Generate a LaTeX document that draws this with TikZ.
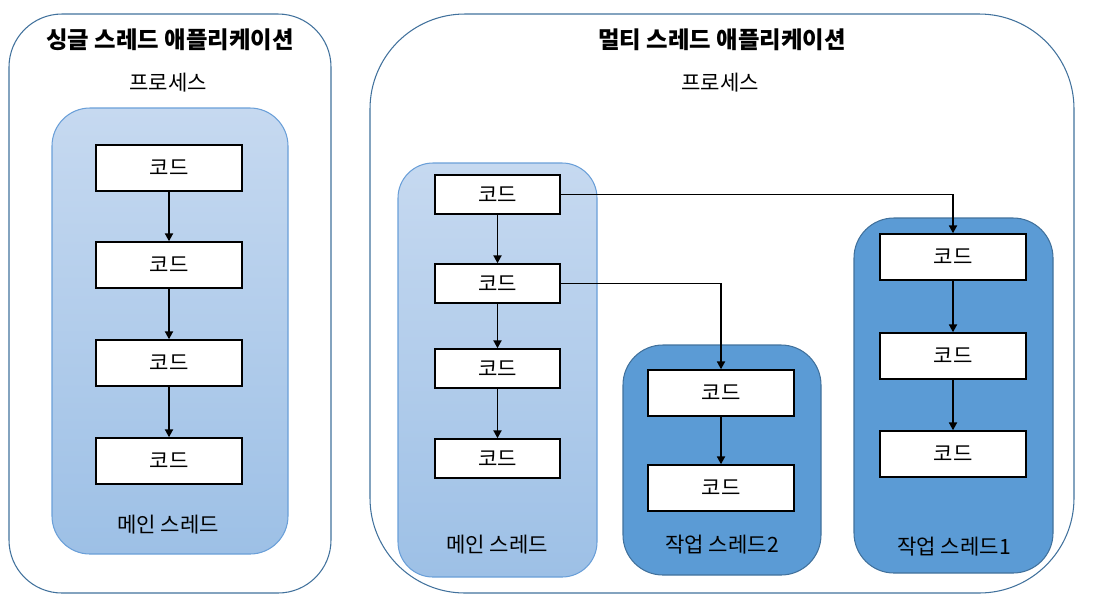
\documentclass[tikz,border=0pt]{standalone}
\usepackage{fontspec}
\setmainfont{Noto Sans CJK KR}
\usetikzlibrary{arrows.meta,positioning}

\definecolor{frameblue}{HTML}{41719C}
\definecolor{mainedge}{HTML}{6A9FD8}
\definecolor{maintop}{HTML}{C6D9F0}
\definecolor{mainbot}{HTML}{9DC0E6}
\definecolor{workfill}{HTML}{5B9BD5}

\tikzset{
  code/.style={draw=black, line width=0.8pt, fill=white, inner sep=0pt,
    minimum width=2.92cm, minimum height=0.92cm, font=\fontsize{12}{14}\selectfont},
  smallcode/.style={code, minimum width=2.5cm, minimum height=0.78cm},
  label/.style={font=\fontsize{12}{14}\selectfont},
  title/.style={font=\fontsize{13.3}{16}\selectfont\bfseries},
  flow/.style={line width=1.1pt, -{Triangle[length=4.5pt,width=4.5pt]}}
}

\begin{document}
\begin{tikzpicture}[x=0.02cm, y=-0.02cm]
 \useasboundingbox (0,0) rectangle (1106,600);

 % single thread application
 \begin{scope}
  \draw[frameblue, line width=0.6pt, rounded corners=1.06cm] (9,14) rectangle (331,593);
  \draw[mainedge, line width=0.6pt, top color=maintop, bottom color=mainbot,
    rounded corners=0.76cm] (52,108) rectangle (288,554);

  \node(st)[title] at (170,40) {싱글 스레드 애플리케이션};
  \node(sp)[label] at (168,83) {프로세스};

  \node(s1)[code] at (169,168) {코드};
  \node(s2)[code] at (169,265) {코드};
  \node(s3)[code] at (169,363) {코드};
  \node(s4)[code] at (169,461) {코드};
  \node(sm)[label] at (168,525) {메인 스레드};

  \draw[flow] (s1) -- (s2);
  \draw[flow] (s2) -- (s3);
  \draw[flow] (s3) -- (s4);
 \end{scope}

 % multi thread application
 \begin{scope}
  \draw[frameblue, line width=0.6pt, rounded corners=1.9cm] (370,14) rectangle (1074,593);
  \node(mt)[title] at (722,40) {멀티 스레드 애플리케이션};
  \node(mp)[label] at (720,83) {프로세스};

  %main thread
  \draw[mainedge, line width=0.6pt, top color=maintop, bottom color=mainbot,
    rounded corners=0.7cm] (398,163) rectangle (597,577);
  \node(m1)[smallcode] at (497.5,194.5) {코드};
  \node(m2)[smallcode] at (497.5,283.5) {코드};
  \node(m3)[smallcode] at (497.5,368.5) {코드};
  \node(m4)[smallcode] at (497.5,458.5) {코드};
  \node(mm)[label] at (497,545) {메인 스레드};

  %worker thread 2
  \draw[frameblue, line width=0.6pt, fill=workfill, rounded corners=0.8cm] (623,345) rectangle (821,575);
  \node(a1)[code] at (721,393) {코드};
  \node(a2)[code] at (721,488) {코드};
  \node(aw)[label] at (722,545) {작업 스레드2};

  %worker thread 1
  \draw[frameblue, line width=0.6pt, fill=workfill, rounded corners=0.8cm] (854,218) rectangle (1053,573);
  \node(b1)[code] at (953,257) {코드};
  \node(b2)[code] at (953,356) {코드};
  \node(b3)[code] at (953,454) {코드};
  \node(bw)[label] at (954,547) {작업 스레드1};

  \draw[flow] (m1) -- (m2);
  \draw[flow] (m2) -- (m3);
  \draw[flow] (m3) -- (m4);
  \draw[flow] (a1) -- (a2);
  \draw[flow] (b1) -- (b2);
  \draw[flow] (b2) -- (b3);
  \draw[flow] (m1.east) -| (b1.north);
  \draw[flow] (m2.east) -| (a1.north);
 \end{scope}
\end{tikzpicture}
\end{document}
